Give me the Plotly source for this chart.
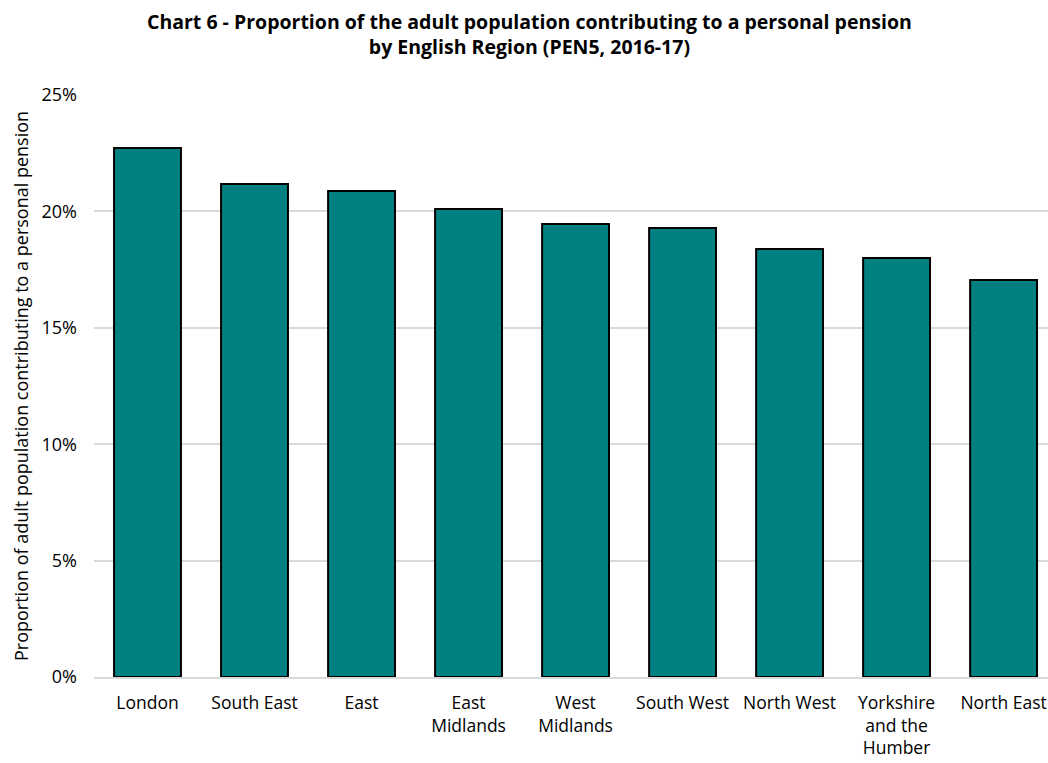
import plotly.graph_objects as go

regions = ["London", "South East", "East", "East<br>Midlands", "West<br>Midlands",
           "South West", "North West", "Yorkshire<br>and the<br>Humber", "North East"]
values = [0.2272, 0.2118, 0.2088, 0.2010, 0.1946, 0.1929, 0.1838, 0.1800, 0.1705]
ytick_vals = [0, 0.05, 0.10, 0.15, 0.20, 0.25]
ytick_text = ["0%", "5%", "10%", "15%", "20%", "25%"]

font = "Open Sans"
fig = go.Figure(go.Bar(
    x=list(range(len(regions))), y=values,
    marker=dict(color="#008080", line=dict(color="#000000", width=2)),
    width=0.625,
))
fig.update_layout(
    width=1048, height=763,
    margin=dict(l=94, r=0, t=95, b=86),
    paper_bgcolor="white", plot_bgcolor="white",
    showlegend=False,
    font=dict(family=font, size=17, color="#000000"),
)
fig.add_annotation(
    text="<b>Chart 6 - Proportion of the adult population contributing to a personal pension<br>by English Region (PEN5, 2016-17)</b>",
    xref="paper", yref="paper", x=0.457, y=1.105, xanchor="center", yanchor="middle",
    showarrow=False, font=dict(family=font, size=19.5, color="#000000"),
)
fig.update_xaxes(
    range=[-0.5, 8.415],
    tickmode="array", tickvals=list(range(len(regions))), ticktext=regions,
    showline=True, linecolor="#d9d9d9", linewidth=1.5,
    ticks="", showgrid=False, tickfont=dict(size=17.5), ticklabelstandoff=9,
)
fig.update_yaxes(
    range=[0, 0.25],
    tickmode="array", tickvals=ytick_vals, ticktext=ytick_text,
    showgrid=True, gridcolor="#d9d9d9", gridwidth=1.5,
    zeroline=False, showline=False, ticks="",
    tickfont=dict(size=18), ticklabelstandoff=16,
    title=dict(text="Proportion of adult population contributing to a personal pension",
               font=dict(size=18), standoff=8),
)
fig.write_html("out.html", config={"displayModeBar": False},
               post_script="document.body.style.margin='0';document.body.style.overflow='hidden';")
